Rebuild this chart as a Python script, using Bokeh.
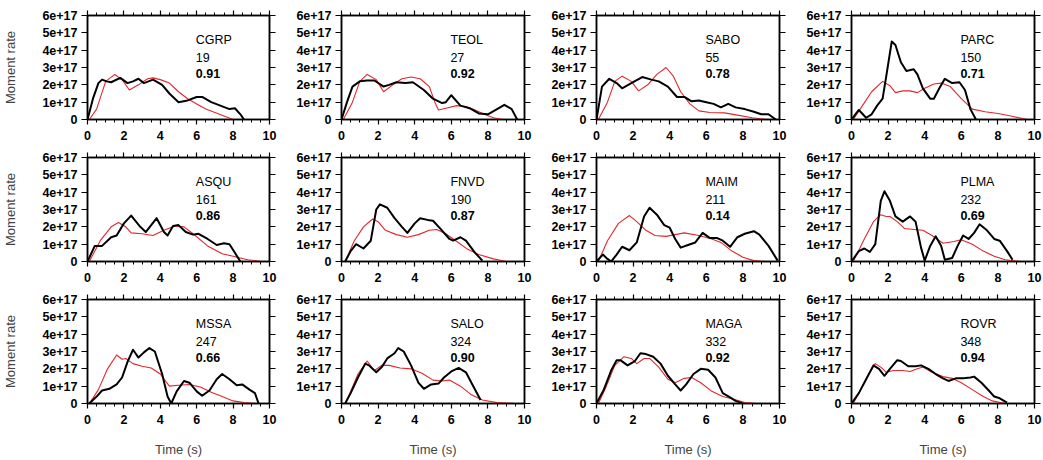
from bokeh.plotting import figure
from bokeh.layouts import column, row
from bokeh.models import LinearAxis, FixedTicker, Range1d
from bokeh.core.properties import value
from bokeh.embed import file_html
from bokeh.resources import INLINE

stations = ["CGRP", "TEOL", "SABO", "PARC", "ASQU", "FNVD", "MAIM", "PLMA",
            "MSSA", "SALO", "MAGA", "ROVR"]
numbers = ["19", "27", "55", "150", "161", "190", "211", "232", "247", "324", "332", "348"]
corrs = ["0.91", "0.92", "0.78", "0.71", "0.86", "0.87", "0.14", "0.69",
         "0.66", "0.90", "0.92", "0.94"]

# observed (black) source time functions, time in s, rate in units of 1e17
black_t = [
    [0, 0.3, 0.6, 0.8, 1.05, 1.3, 1.8, 2.2, 2.5, 2.8, 3.1, 3.6, 4.1, 4.5, 5.0, 5.5, 6.0, 6.3, 6.8, 7.3, 7.8, 8.1, 8.4, 8.6],
    [0, 0.3, 0.6, 1.0, 1.4, 1.8, 2.3, 2.6, 3.0, 3.5, 3.9, 4.5, 5.0, 5.5, 5.7, 6.0, 6.5, 7.0, 7.5, 8.0, 8.5, 8.9, 9.3, 9.6],
    [0, 0.3, 0.7, 1.1, 1.4, 1.9, 2.5, 3.0, 3.4, 3.9, 4.4, 4.8, 5.2, 5.6, 6.0, 6.4, 6.8, 7.2, 7.6, 8.1, 8.6, 9.0, 9.4, 9.8],
    [0, 0.4, 0.8, 1.1, 1.4, 1.7, 1.9, 2.2, 2.4, 2.7, 3.0, 3.4, 3.6, 3.9, 4.3, 4.5, 4.8, 5.1, 5.5, 5.9, 6.2, 6.5, 6.8],
    [0, 0.4, 0.8, 1.3, 1.6, 2.0, 2.4, 2.9, 3.2, 3.5, 3.8, 4.2, 4.4, 4.7, 5.0, 5.4, 5.8, 6.1, 6.6, 7.1, 7.5, 7.8, 8.1, 8.4],
    [0.2, 0.5, 0.8, 1.2, 1.6, 1.9, 2.1, 2.5, 2.9, 3.3, 3.6, 4.0, 4.3, 4.7, 5.0, 5.4, 5.9, 6.1, 6.5, 6.8, 7.3, 7.7],
    [0, 0.35, 0.6, 0.8, 1.1, 1.4, 1.8, 2.2, 2.6, 2.9, 3.3, 3.7, 4.0, 4.3, 4.6, 5.0, 5.4, 5.8, 6.2, 6.6, 6.9, 7.3, 7.7, 8.1, 8.6, 8.9, 9.4, 9.9],
    [0, 0.4, 0.7, 1.0, 1.3, 1.6, 1.8, 2.1, 2.4, 2.8, 3.2, 3.5, 3.8, 4.0, 4.3, 4.6, 4.9, 5.1, 5.5, 5.8, 6.1, 6.4, 6.7, 7.0, 7.4, 7.8, 8.1, 8.5, 8.8],
    [0.1, 0.5, 0.8, 1.2, 1.6, 1.9, 2.2, 2.5, 2.8, 3.1, 3.4, 3.7, 4.1, 4.4, 4.6, 4.9, 5.3, 5.6, 6.0, 6.3, 6.7, 7.1, 7.4, 7.8, 8.2, 8.5, 8.9, 9.2, 9.4],
    [0.2, 0.5, 0.9, 1.3, 1.5, 1.9, 2.2, 2.5, 2.9, 3.1, 3.4, 3.8, 4.2, 4.5, 4.9, 5.3, 5.6, 6.0, 6.4, 6.8, 7.2, 7.6],
    [0, 0.4, 0.8, 1.1, 1.3, 1.7, 2.1, 2.4, 2.7, 3.1, 3.5, 3.9, 4.3, 4.6, 4.9, 5.3, 5.7, 6.1, 6.5, 6.9, 7.3, 7.6, 8.0],
    [0, 0.4, 0.8, 1.2, 1.5, 1.8, 2.1, 2.5, 2.7, 3.1, 3.5, 3.8, 4.2, 4.6, 5.0, 5.3, 5.7, 6.1, 6.5, 6.7, 7.1, 7.5, 7.8, 8.1, 8.5],
]
black_v = [
    [0, 1.2, 2.1, 2.3, 2.2, 2.15, 2.4, 2.1, 2.2, 2.35, 2.1, 2.3, 2.0, 1.5, 1.0, 1.1, 1.3, 1.3, 1.0, 0.8, 0.6, 0.65, 0.3, 0],
    [0, 1.0, 1.9, 2.2, 2.25, 2.25, 1.9, 2.0, 2.15, 2.1, 2.15, 1.7, 1.2, 0.95, 1.0, 1.4, 0.8, 0.65, 0.35, 0.3, 0.6, 0.85, 0.6, 0],
    [0, 1.9, 2.35, 2.1, 1.8, 2.1, 2.45, 2.3, 2.2, 1.9, 1.3, 1.3, 1.05, 1.1, 1.0, 0.9, 0.7, 0.9, 0.7, 0.6, 0.45, 0.3, 0.3, 0],
    [0, 0.55, 0.1, 0.3, 0.8, 1.2, 2.5, 4.5, 4.3, 3.3, 2.8, 2.9, 2.6, 1.8, 1.2, 1.2, 1.8, 2.35, 2.1, 2.15, 1.7, 0.6, 0],
    [0, 0.9, 0.9, 1.4, 1.5, 2.2, 2.65, 2.0, 1.7, 2.1, 2.5, 1.7, 1.5, 2.05, 2.1, 1.7, 1.55, 1.6, 1.3, 0.95, 1.05, 1.0, 0.5, 0],
    [0, 0.6, 1.0, 0.75, 1.2, 3.0, 3.3, 3.1, 2.5, 2.0, 1.65, 2.2, 2.5, 2.4, 2.35, 1.9, 1.3, 1.2, 1.4, 1.2, 0.5, 0.05],
    [0, 0.4, 0.15, 0, 0.4, 0.85, 0.65, 1.1, 2.6, 3.1, 2.7, 2.1, 1.95, 1.3, 0.8, 0.95, 1.1, 1.65, 1.35, 1.35, 1.2, 0.85, 1.4, 1.6, 1.75, 1.55, 0.9, 0.05],
    [0, 0.6, 0.75, 0.55, 1.0, 3.5, 4.05, 3.5, 2.6, 2.3, 2.6, 2.3, 0.8, 0.05, 0.9, 1.45, 0.9, 0.1, 0.2, 0.9, 1.5, 1.3, 1.65, 2.15, 1.8, 1.3, 1.2, 0.6, 0.1],
    [0, 0.4, 0.75, 0.85, 1.1, 1.5, 2.4, 3.1, 2.65, 2.95, 3.2, 3.0, 1.7, 0.4, 0, 0.7, 1.3, 1.2, 0.7, 0.45, 0.75, 1.4, 1.7, 1.4, 1.05, 1.1, 0.8, 0.6, 0],
    [0, 0.6, 1.5, 2.3, 2.2, 1.8, 2.1, 2.6, 2.9, 3.2, 3.0, 2.2, 1.2, 0.85, 1.1, 1.15, 1.5, 1.85, 2.05, 1.8, 1.0, 0.2],
    [0, 0.8, 1.9, 2.5, 2.5, 2.2, 2.45, 2.9, 2.85, 2.7, 2.3, 1.6, 1.1, 0.75, 1.1, 1.7, 2.0, 1.95, 1.5, 0.6, 0.35, 0.15, 0],
    [0, 0.6, 1.4, 2.2, 2.0, 1.6, 2.0, 2.5, 2.45, 2.15, 2.15, 2.2, 2.0, 1.7, 1.45, 1.3, 1.45, 1.45, 1.5, 1.55, 1.2, 0.75, 0.4, 0.3, 0.05],
]

# synthetic (red) source time functions
red_t = [
    [0.1, 0.5, 1.0, 1.5, 1.9, 2.3, 2.8, 3.3, 3.6, 4.0, 4.5, 5.0, 5.5, 6.0, 6.5, 7.0, 7.5, 8.0],
    [0.1, 0.6, 1.0, 1.4, 1.9, 2.3, 2.8, 3.3, 3.8, 4.3, 4.8, 5.1, 5.3, 5.7, 6.3, 6.8, 7.3, 7.8, 8.3, 8.8],
    [0.1, 0.6, 1.0, 1.4, 1.9, 2.3, 2.8, 3.3, 3.8, 4.2, 4.6, 5.1, 5.6, 6.2, 7.0, 7.7, 8.5, 9.3],
    [0.1, 0.6, 1.1, 1.7, 2.1, 2.4, 2.8, 3.2, 3.6, 4.0, 4.5, 4.9, 5.4, 6.0, 6.6, 7.3, 8.0, 8.7, 9.6],
    [0.1, 0.7, 1.3, 1.7, 2.1, 2.4, 3.0, 3.6, 4.2, 4.8, 5.3, 5.8, 6.6, 7.4, 8.0, 8.8, 9.6],
    [0.2, 0.7, 1.2, 1.7, 2.0, 2.4, 3.0, 3.6, 4.2, 4.8, 5.2, 5.7, 6.3, 6.9, 7.5, 8.3, 9.0],
    [0.1, 0.6, 1.2, 1.8, 2.2, 2.7, 3.2, 3.8, 4.3, 4.8, 5.6, 6.3, 6.8, 7.4, 8.0, 8.6, 9.2],
    [0.1, 0.7, 1.2, 1.6, 1.9, 2.1, 2.5, 2.9, 3.4, 3.9, 4.4, 5.0, 5.6, 6.0, 6.6, 7.2, 7.8, 8.4, 9.2],
    [0.1, 0.6, 1.1, 1.6, 1.9, 2.1, 2.5, 3.0, 3.5, 4.0, 4.5, 5.0, 5.6, 6.2, 6.8, 7.4, 8.0, 8.6, 9.3],
    [0.2, 0.5, 0.9, 1.4, 1.8, 2.2, 2.6, 3.2, 3.8, 4.4, 5.0, 5.5, 5.9, 6.5, 7.1, 7.7, 8.5, 9.5],
    [0.1, 0.5, 1.0, 1.5, 1.9, 2.2, 2.6, 2.9, 3.4, 3.9, 4.3, 4.8, 5.2, 5.7, 6.3, 6.9, 7.5, 8.1, 8.8],
    [0.1, 0.5, 0.9, 1.3, 1.6, 1.9, 2.3, 2.8, 3.2, 3.6, 3.9, 4.4, 5.0, 5.5, 6.0, 6.6, 7.2, 7.7, 8.4],
]
red_v = [
    [0, 0.6, 2.2, 2.6, 2.3, 1.7, 2.0, 2.35, 2.4, 2.3, 2.1, 1.6, 1.2, 0.9, 0.6, 0.4, 0.2, 0],
    [0, 1.0, 2.2, 2.6, 2.3, 1.6, 2.0, 2.35, 2.45, 2.35, 1.9, 1.0, 0.55, 0.65, 0.8, 0.75, 0.55, 0.3, 0.1, 0],
    [0, 1.0, 2.2, 2.5, 2.2, 1.65, 2.0, 2.6, 3.0, 2.5, 1.6, 0.9, 0.5, 0.4, 0.38, 0.25, 0.1, 0],
    [0, 0.8, 1.6, 2.2, 1.95, 1.55, 1.65, 1.65, 1.55, 1.8, 2.05, 2.1, 1.9, 1.2, 0.6, 0.45, 0.35, 0.2, 0],
    [0, 1.2, 2.0, 2.25, 2.0, 1.65, 1.6, 1.5, 1.8, 2.05, 2.0, 1.6, 0.9, 0.45, 0.3, 0.1, 0],
    [0, 1.2, 2.0, 2.45, 2.3, 1.8, 1.55, 1.4, 1.55, 1.8, 1.85, 1.6, 1.15, 0.7, 0.4, 0.15, 0],
    [0, 1.2, 2.2, 2.65, 2.3, 1.8, 1.5, 1.45, 1.55, 1.65, 1.5, 1.3, 1.1, 0.6, 0.25, 0.05, 0],
    [0, 1.3, 2.3, 2.7, 2.6, 2.6, 2.3, 1.9, 1.85, 1.8, 1.5, 1.05, 1.15, 1.25, 1.0, 0.6, 0.3, 0.1, 0],
    [0, 0.8, 2.0, 2.8, 2.55, 2.6, 2.3, 2.15, 2.05, 1.7, 1.0, 1.05, 1.1, 0.95, 0.65, 0.4, 0.15, 0.05, 0],
    [0, 0.7, 1.7, 2.45, 1.9, 2.2, 2.2, 2.05, 2.0, 1.75, 1.35, 1.3, 1.35, 1.0, 0.5, 0.2, 0.05, 0],
    [0, 0.9, 2.2, 2.7, 2.6, 2.3, 2.6, 2.6, 2.1, 1.4, 1.2, 1.45, 1.5, 1.2, 0.7, 0.4, 0.25, 0.05, 0],
    [0, 0.8, 1.6, 2.3, 2.1, 1.8, 1.9, 1.9, 1.85, 2.0, 2.1, 1.8, 1.55, 1.45, 1.2, 0.8, 0.4, 0.15, 0],
]

x_ticks = [0, 2, 4, 6, 8, 10]
x_minor = [i * 0.5 for i in range(21)]
y_ticks = [0, 1e17, 2e17, 3e17, 4e17, 5e17, 6e17]
y_tick_labels = ["0", "1e+17", "2e+17", "3e+17", "4e+17", "5e+17", "6e+17"]

FONT = "Liberation Sans"
FRAME_W, FRAME_H = 183, 104
LEFT0, LEFT, RIGHT, RIGHT_LAST = 86, 62, 10, 8
TOP0, TOP = 15, 7
BOTTOM, BOTTOM_LAST = 31, 57


def style_axis(ax, labels=True, tick_out=5):
    ax.axis_line_width = 1.5
    ax.axis_line_color = "black"
    ax.major_tick_line_color = "black"
    ax.minor_tick_line_color = "black"
    ax.major_tick_line_width = 1.2
    ax.minor_tick_line_width = 1
    ax.major_tick_in = 0
    ax.major_tick_out = tick_out
    ax.minor_tick_in = 0
    ax.minor_tick_out = 3
    if labels:
        ax.major_label_text_font = FONT
        ax.major_label_text_font_size = "12.5px"
        ax.major_label_text_font_style = "bold"
        ax.major_label_text_color = "black"
    else:
        ax.major_label_text_color = None
        ax.major_label_text_alpha = 0
        ax.major_label_text_font_size = "1px"
        ax.major_label_standoff = 0


def make_panel(i):
    r, c = divmod(i, 4)
    left = LEFT0 if c == 0 else LEFT
    right = RIGHT if c < 3 else RIGHT_LAST
    top = TOP0 if r == 0 else TOP
    bottom = BOTTOM_LAST if r == 2 else BOTTOM
    p = figure(width=left + FRAME_W + right, height=top + FRAME_H + bottom,
               x_range=Range1d(0, 10), y_range=Range1d(0, 6e17),
               output_backend="svg", toolbar_location=None, tools="",
               min_border_left=left, min_border_right=right,
               min_border_top=top, min_border_bottom=bottom)
    p.grid.visible = False
    p.outline_line_color = "black"
    p.outline_line_width = 1.5
    p.background_fill_color = "white"
    p.border_fill_color = "white"

    xa = p.xaxis[0]
    xa.ticker = FixedTicker(ticks=x_ticks, minor_ticks=x_minor)
    style_axis(xa)
    xa.major_label_standoff = 6
    ya = p.yaxis[0]
    ya.ticker = FixedTicker(ticks=y_ticks, minor_ticks=[])
    overrides = {}
    for v, s in zip(y_ticks, y_tick_labels):
        overrides[float(v)] = s
        overrides[int(v)] = s
    ya.major_label_overrides = overrides
    style_axis(ya, tick_out=6)
    ya.major_label_standoff = 4

    if c == 0:
        ya.axis_label = "Moment rate"
        ya.axis_label_text_font = FONT
        ya.axis_label_text_font_size = "13px"
        ya.axis_label_text_font_style = "normal"
        ya.axis_label_standoff = 21
    if r == 2:
        xa.axis_label = "Time (s)"
        xa.axis_label_text_font = FONT
        xa.axis_label_text_font_size = "13px"
        xa.axis_label_text_font_style = "normal"
        xa.axis_label_standoff = 15

    top_ax = LinearAxis(ticker=FixedTicker(ticks=x_ticks, minor_ticks=x_minor))
    style_axis(top_ax, labels=False)
    p.add_layout(top_ax, "above")
    rgt = LinearAxis(ticker=FixedTicker(ticks=y_ticks, minor_ticks=[]))
    style_axis(rgt, labels=False, tick_out=6)
    p.add_layout(rgt, "right")

    p.line(red_t[i], [v * 1e17 for v in red_v[i]],
           line_color="#e3262c", line_width=1.1, line_join="round")
    p.line(black_t[i], [v * 1e17 for v in black_v[i]],
           line_color="black", line_width=2, line_join="round")

    p.text(x=[5.95, 5.95], y=[4.57e17, 3.6e17], text=[stations[i], numbers[i]],
           text_font=value(FONT), text_font_size="12.5px",
           text_baseline="middle", text_align="left", text_color="black")
    p.text(x=[5.95], y=[2.63e17], text=[corrs[i]],
           text_font=value(FONT), text_font_size="12.5px", text_font_style="bold",
           text_baseline="middle", text_align="left", text_color="black")
    return p


panels = [make_panel(i) for i in range(12)]
layout = column(*[row(*panels[r * 4:(r + 1) * 4]) for r in range(3)])

open("out.html", "w").write(file_html(layout, INLINE))
